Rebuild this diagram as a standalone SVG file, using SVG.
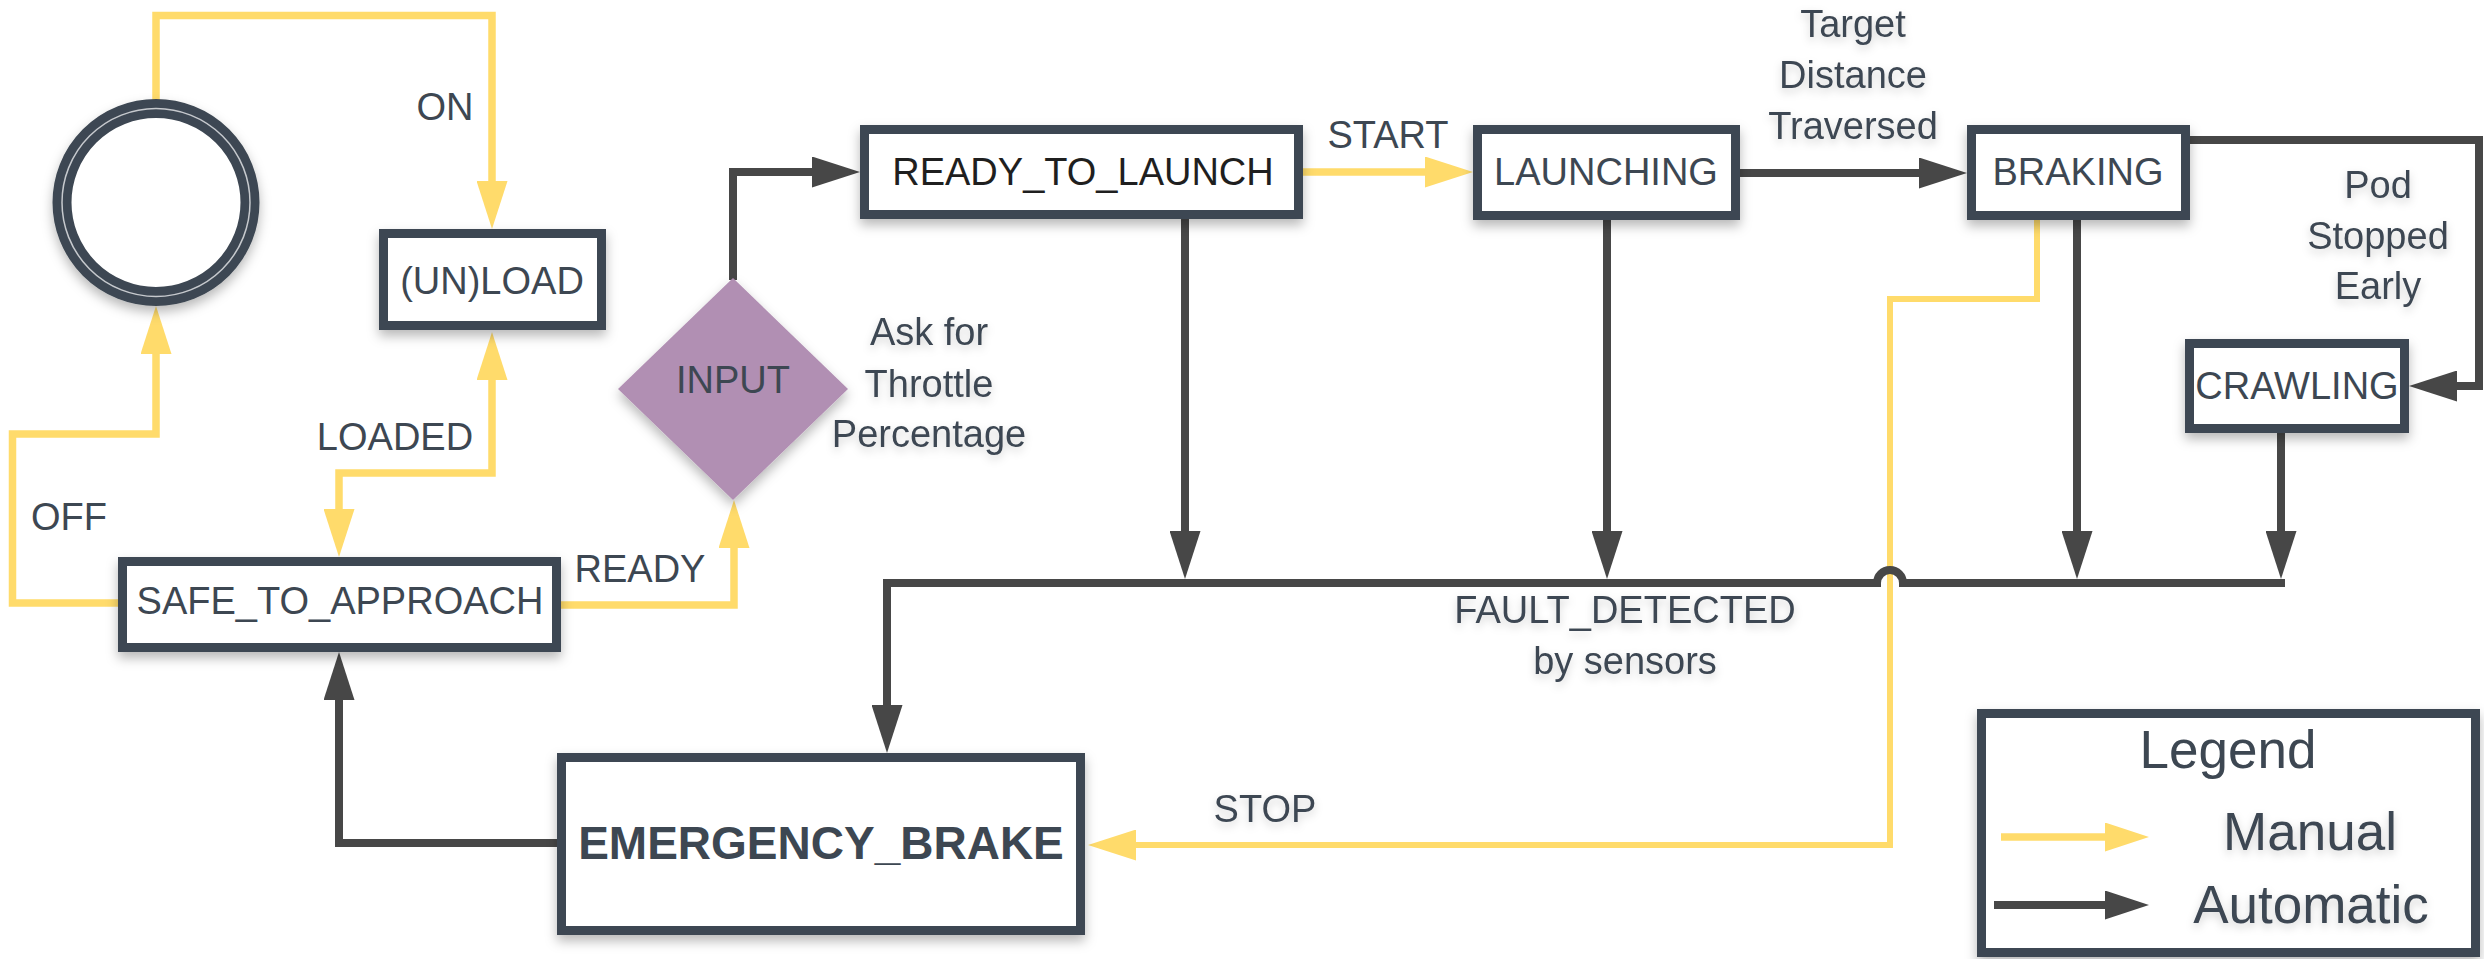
<svg xmlns="http://www.w3.org/2000/svg" width="2484" height="959" viewBox="0 0 2484 959">
  <defs>
    <filter id="shadow" x="-20%" y="-20%" width="140%" height="150%">
      <feDropShadow dx="0" dy="6" stdDeviation="6" flood-color="#000" flood-opacity="0.28"/>
    </filter>
    <filter id="textShadow" x="-20%" y="-30%" width="140%" height="170%">
      <feDropShadow dx="0" dy="4" stdDeviation="4" flood-color="#000" flood-opacity="0.18"/>
    </filter>
    <!-- arrowheads: the path ends at the head's base, the head extends 48px beyond -->
    <marker id="headY" viewBox="0 0 48 31" refX="0" refY="15.5" markerWidth="48" markerHeight="31" markerUnits="userSpaceOnUse" orient="auto-start-reverse">
      <path d="M0,0 L48,15.5 L0,31 Z" fill="#ffdb6b"/>
    </marker>
    <marker id="headD" viewBox="0 0 48 31" refX="0" refY="15.5" markerWidth="48" markerHeight="31" markerUnits="userSpaceOnUse" orient="auto-start-reverse">
      <path d="M0,0 L48,15.5 L0,31 Z" fill="#474747"/>
    </marker>
    <marker id="headYs" viewBox="0 0 44 29" refX="0" refY="14.5" markerWidth="44" markerHeight="29" markerUnits="userSpaceOnUse" orient="auto">
      <path d="M0,0 L44,14.5 L0,29 Z" fill="#ffdb6b"/>
    </marker>
    <marker id="headDs" viewBox="0 0 44 29" refX="0" refY="14.5" markerWidth="44" markerHeight="29" markerUnits="userSpaceOnUse" orient="auto">
      <path d="M0,0 L44,14.5 L0,29 Z" fill="#474747"/>
    </marker>
  </defs>
  <style>
    .box { fill: #ffffff; stroke: #3d4752; stroke-width: 9; filter: url(#shadow); }
    .lbl { font-family: "Liberation Sans", Arial, sans-serif; font-size: 38px; fill: #3d4752; text-anchor: middle; }
    .note { filter: url(#textShadow); }
    .manual { fill: none; stroke: #ffdb6b; stroke-width: 7.5; stroke-linejoin: miter; }
    .auto { fill: none; stroke: #474747; stroke-width: 8; stroke-linejoin: miter; }
    .legendTxt { font-family: "Liberation Sans", Arial, sans-serif; font-size: 53px; fill: #3d4752; text-anchor: middle; }
  </style>
  <rect width="2484" height="959" fill="#ffffff"/>

  <!-- connectors -->
  <g id="connectors">
    <!-- manual transitions -->
    <path class="manual" d="M156,100 V15.5 H492 V181" marker-end="url(#headY)"/>
    <path class="manual" d="M118,603 H12.5 V434 H156 V354" marker-end="url(#headY)"/>
    <path class="manual" d="M339,509 V473 H492 V380" marker-start="url(#headY)" marker-end="url(#headY)"/>
    <path class="manual" d="M561,605 H734 V548" marker-end="url(#headY)"/>
    <path class="manual" d="M1303,172 H1425" marker-end="url(#headY)"/>
    <path class="manual" style="stroke-width:6" d="M2037,220 V299 H1890 V845 H1136" marker-end="url(#headY)"/>
    <!-- automatic transitions -->
    <path class="auto" d="M733,280 V172 H812" marker-end="url(#headD)"/>
    <path class="auto" d="M1740,173 H1919" marker-end="url(#headD)"/>
    <path class="auto" d="M2190,140 H2479 V386 H2457" marker-end="url(#headD)"/>
    <path class="auto" d="M1185,219 V531" marker-end="url(#headD)"/>
    <path class="auto" d="M1607,220 V531" marker-end="url(#headD)"/>
    <path class="auto" d="M2077,220 V531" marker-end="url(#headD)"/>
    <path class="auto" d="M2281,433 V531" marker-end="url(#headD)"/>
    <path class="auto" d="M2285,583 H1903 A13,13 0 0 0 1877,583 H887 V705" marker-end="url(#headD)"/>
    <path class="auto" d="M557,843 H339 V700" marker-end="url(#headD)"/>
  </g>

  <!-- transition labels -->
  <g id="labels">
    <text class="lbl" x="445" y="120">ON</text>
    <text class="lbl" x="395" y="450">LOADED</text>
    <text class="lbl" x="69" y="530">OFF</text>
    <text class="lbl" x="640" y="582">READY</text>
    <text class="lbl" x="1388" y="148">START</text>
    <text class="lbl note" x="929" y="345">Ask for</text>
    <text class="lbl note" x="929" y="397">Throttle</text>
    <text class="lbl note" x="929" y="447">Percentage</text>
    <text class="lbl note" x="1853" y="37">Target</text>
    <text class="lbl note" x="1853" y="88">Distance</text>
    <text class="lbl note" x="1853" y="139">Traversed</text>
    <text class="lbl note" x="2378" y="198">Pod</text>
    <text class="lbl note" x="2378" y="249">Stopped</text>
    <text class="lbl note" x="2378" y="299">Early</text>
    <text class="lbl note" x="1625" y="623">FAULT_DETECTED</text>
    <text class="lbl note" x="1625" y="674">by sensors</text>
    <text class="lbl note" x="1265" y="822">STOP</text>
  </g>

  <!-- power on/off state -->
  <g id="power">
    <circle cx="156" cy="202.5" r="94" fill="#ffffff" stroke="#3d4752" stroke-width="19" filter="url(#shadow)"/>
    <circle cx="156" cy="202.5" r="94" fill="none" stroke="#e8eaec" stroke-width="1.5" opacity="0.8"/>
  </g>

  <g id="unload">
    <rect class="box" x="383.5" y="233.5" width="218" height="92"/>
    <text class="lbl" x="492" y="294">(UN)LOAD</text>
  </g>

  <g id="safe-to-approach">
    <rect class="box" x="122.5" y="561.5" width="434" height="86"/>
    <text class="lbl" x="340" y="614">SAFE_TO_APPROACH</text>
  </g>

  <g id="input">
    <polygon points="733,278 848,389 733,500 618,389" fill="#b18fb3" filter="url(#shadow)"/>
    <text class="lbl" x="733" y="393">INPUT</text>
  </g>

  <g id="ready-to-launch">
    <rect class="box" x="864.5" y="129.5" width="434" height="85"/>
    <text class="lbl" x="1083" y="185" style="fill:#1f1f1f">READY_TO_LAUNCH</text>
  </g>

  <g id="launching">
    <rect class="box" x="1477.5" y="129.5" width="258" height="86"/>
    <text class="lbl" x="1606" y="185">LAUNCHING</text>
  </g>

  <g id="braking">
    <rect class="box" x="1971.5" y="129.5" width="214" height="86"/>
    <text class="lbl" x="2078" y="185">BRAKING</text>
  </g>

  <g id="crawling">
    <rect class="box" x="2189.5" y="343.5" width="215" height="85"/>
    <text class="lbl" x="2297" y="399">CRAWLING</text>
  </g>

  <g id="emergency-brake">
    <rect class="box" x="561.5" y="757.5" width="519" height="173"/>
    <text class="lbl" x="821" y="859" style="font-size:46px;font-weight:bold">EMERGENCY_BRAKE</text>
  </g>

  <g id="legend">
    <rect class="box" x="1981.5" y="713.5" width="494" height="239"/>
    <text class="legendTxt" x="2228" y="768">Legend</text>
    <path class="manual" d="M2001,837 H2105" marker-end="url(#headYs)"/>
    <text class="legendTxt note" x="2310" y="850">Manual</text>
    <path class="auto" d="M1994,905 H2105" marker-end="url(#headDs)"/>
    <text class="legendTxt note" x="2311" y="923">Automatic</text>
  </g>
</svg>
